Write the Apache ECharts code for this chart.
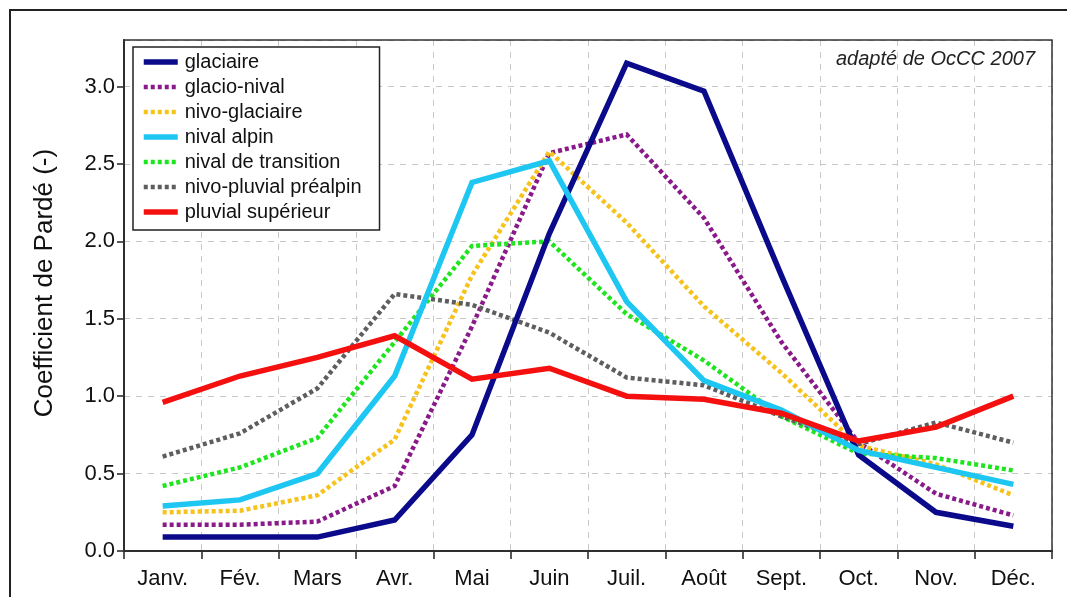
<!DOCTYPE html>
<html>
<head>
<meta charset="utf-8">
<script src="https://cdn.jsdelivr.net/npm/echarts@6/dist/echarts.min.js"></script>
<style>
  html, body { margin: 0; padding: 0; background: #fff; }
  #chart { width: 1067px; height: 597px; }
</style>
</head>
<body>
<div id="chart"></div>
<script>
const months = ['Janv.', 'Fév.', 'Mars', 'Avr.', 'Mai', 'Juin', 'Juil.', 'Août', 'Sept.', 'Oct.', 'Nov.', 'Déc.']

// coefficients de Pardé par régime
const glaciaire       = [0.09, 0.09, 0.09, 0.20, 0.75, 2.05, 3.15, 2.97, 1.78, 0.62, 0.25, 0.16]
const glacioNival     = [0.17, 0.17, 0.19, 0.42, 1.45, 2.57, 2.69, 2.15, 1.35, 0.70, 0.37, 0.23]
const nivoGlaciaire   = [0.25, 0.26, 0.36, 0.72, 1.78, 2.58, 2.12, 1.58, 1.15, 0.68, 0.56, 0.36]
const nivalAlpin      = [0.29, 0.33, 0.50, 1.13, 2.38, 2.52, 1.61, 1.10, 0.91, 0.65, 0.54, 0.43]
const nivalTransition = [0.42, 0.54, 0.73, 1.35, 1.97, 2.00, 1.53, 1.23, 0.87, 0.63, 0.60, 0.52]
const nivoPluvial     = [0.61, 0.76, 1.05, 1.66, 1.59, 1.41, 1.12, 1.07, 0.87, 0.69, 0.83, 0.70]
const pluvialSup      = [0.96, 1.13, 1.25, 1.39, 1.11, 1.18, 1.00, 0.98, 0.89, 0.71, 0.80, 1.00]

const seriesDefs = [
  { name: 'glaciaire', data: glaciaire, color: '#0a0a8a', dotted: false },
  { name: 'glacio-nival', data: glacioNival, color: '#8a1a8a', dotted: true },
  { name: 'nivo-glaciaire', data: nivoGlaciaire, color: '#f6c21c', dotted: true },
  { name: 'nival alpin', data: nivalAlpin, color: '#1ec6f2', dotted: false },
  { name: 'nival de transition', data: nivalTransition, color: '#1fe51f', dotted: true },
  { name: 'nivo-pluvial préalpin', data: nivoPluvial, color: '#5e5e5e', dotted: true },
  { name: 'pluvial supérieur', data: pluvialSup, color: '#f51010', dotted: false }
]

const FONT = "'Liberation Sans', Arial, sans-serif"

const lineStyleOf = s => ({
  color: s.color,
  width: s.dotted ? 4.5 : 5.5,
  type: s.dotted ? [4, 3] : 'solid',
  cap: 'butt',
  join: 'miter'
})

const chart = echarts.init(document.getElementById('chart'))

chart.setOption({
  animation: false,
  backgroundColor: '#fff',
  textStyle: { fontFamily: FONT },
  graphic: [
    {
      type: 'rect',
      shape: { x: 10, y: 10, width: 1100, height: 700 },
      style: { fill: 'none', stroke: '#222', lineWidth: 2 },
      silent: true
    },
    {
      // cadre du graphique (par-dessus les lignes de grille)
      type: 'rect',
      shape: { x: 124, y: 40, width: 928, height: 511 },
      style: { fill: 'none', stroke: '#333', lineWidth: 1.5 },
      silent: true,
      z: 50
    },
    {
      type: 'text',
      right: 32,
      top: 49,
      style: {
        text: 'adapté de OcCC 2007',
        fontFamily: FONT,
        fontSize: 20,
        fontStyle: 'italic',
        fill: '#222'
      },
      z: 10
    },
    {
      // titre de l'axe y, un peu au-dessus du centre comme dans l'original
      type: 'text',
      x: 45,
      y: 283,
      rotation: Math.PI / 2,
      style: {
        text: 'Coefficient de Pardé (-)',
        fontFamily: FONT,
        fontSize: 26,
        fill: '#111',
        align: 'center',
        verticalAlign: 'middle'
      }
    }
  ],
  grid: {
    left: 124,
    right: 15,
    top: 40,
    bottom: 46
  },
  legend: {
    orient: 'vertical',
    left: 133,
    top: 47,
    itemWidth: 34,
    itemHeight: 14,
    itemGap: 5,
    padding: [5, 18, 8, 8],
    backgroundColor: '#fff',
    borderColor: '#222',
    borderWidth: 1.5,
    itemStyle: { opacity: 0 },
    textStyle: { fontSize: 20, color: '#111', fontFamily: FONT, padding: [0, 0, 0, 2] },
    data: seriesDefs.map(s => ({ name: s.name, lineStyle: lineStyleOf(s) }))
  },
  xAxis: {
    type: 'category',
    data: months,
    boundaryGap: true,
    axisLine: { lineStyle: { color: '#222', width: 2 } },
    axisTick: { show: true, length: 8, lineStyle: { color: '#222', width: 1.5 } },
    axisLabel: { color: '#111', fontSize: 22, margin: 17, fontFamily: FONT },
    splitLine: { show: true, lineStyle: { color: '#c8c8c8', type: [6, 6], width: 1 } }
  },
  yAxis: {
    type: 'value',
    min: 0,
    max: 3.3,
    interval: 0.5,
    axisLine: { show: true, lineStyle: { color: '#222', width: 2 } },
    axisTick: { show: true, length: 7, lineStyle: { color: '#222', width: 1.5 } },
    axisLabel: {
      color: '#111',
      fontSize: 22,
      margin: 9,
      fontFamily: FONT,
      showMaxLabel: false,
      formatter: v => v.toFixed(1)
    },
    splitLine: { show: true, lineStyle: { color: '#c8c8c8', type: [6, 6], width: 1 } }
  },
  series: seriesDefs.map(s => ({
    name: s.name,
    type: 'line',
    data: s.data,
    symbol: 'none',
    smooth: false,
    color: s.color,
    lineStyle: lineStyleOf(s),
    z: s.dotted ? 2 : 3
  }))
})
</script>
</body>
</html>
